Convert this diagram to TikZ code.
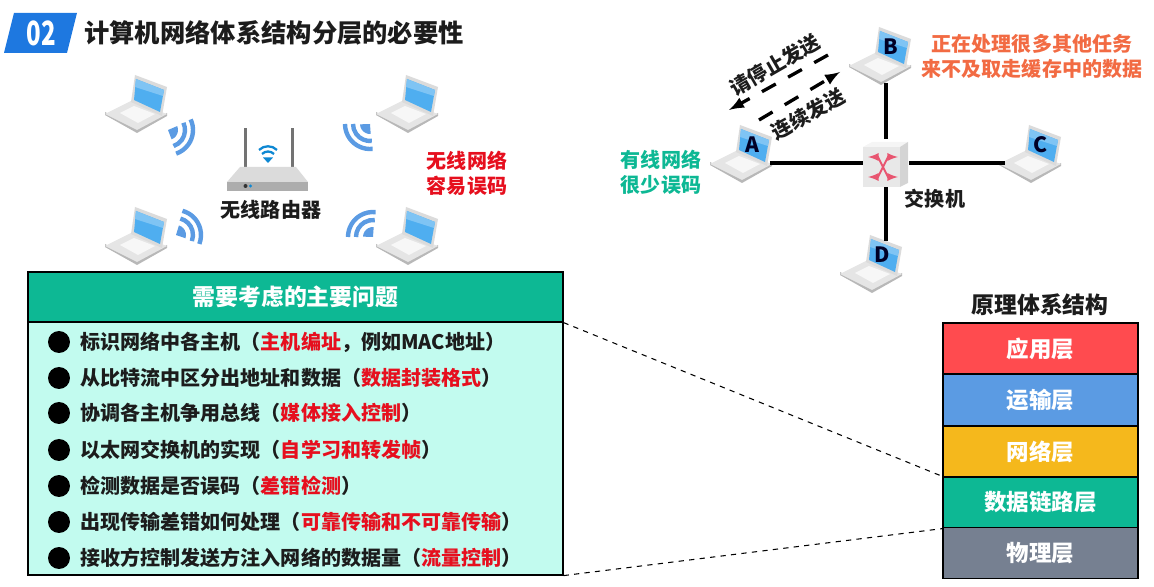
\documentclass[tikz,border=0pt]{standalone}
\usepackage{fontspec}
\setmainfont{Noto Sans CJK SC}
\usetikzlibrary{positioning}

\definecolor{tealbar}{HTML}{0DB894}
\definecolor{mintbg}{HTML}{C2FBEF}
\definecolor{hotred}{HTML}{E60F1E}
\definecolor{wifiblue}{HTML}{5B9BE3}
\definecolor{badgeblue}{HTML}{1E78E0}
\definecolor{screenblue}{HTML}{4FAEF0}
\definecolor{screenglow}{HTML}{7FC4F4}
\definecolor{inkblack}{HTML}{1C1C1C}
\definecolor{busyorange}{HTML}{F26B43}
\definecolor{appred}{HTML}{FF4B4F}
\definecolor{netyellow}{HTML}{F5B81C}
\definecolor{phygray}{HTML}{768091}
\definecolor{arrowpink}{HTML}{E85570}

\newcommand{\hot}[1]{\textcolor{hotred}{#1}}

\tikzset{
    label text/.style={font=\bfseries\fontsize{11.4pt}{14.2pt}\selectfont, align=center, inner sep=0pt, text=inkblack},
    item/.style={label text, anchor=west},
    dot/.style={circle, fill=black, inner sep=0pt, minimum size=0.44cm},
    layer/.style={rectangle, draw=black, line width=0.7pt, minimum width=3.9cm, minimum height=1.02cm, inner sep=0pt, text=white, font=\bfseries\fontsize{12.8pt}{15pt}\selectfont},
    link/.style={line width=2.2pt, black},
    send/.style={line width=1.9pt, dash pattern=on 9pt off 8pt, -latex},
    zoomline/.style={dashed, line width=0.6pt},
    laptop/.pic={
        \fill[black!28] (0,40) -- (32,58) -- (62,41) -- (62,38) -- (32,54) -- (0,37) -- cycle;
        \fill[black!10] (0,39) -- (26,26) -- (62,39) -- (32,55) -- cycle;
        \fill[black!3] (15,38) -- (29,31) -- (50,39) -- (33,48) -- cycle;
        \fill[black!14] (30,0) -- (62,12) -- (57,41) -- (26,27) -- cycle;
        \fill[screenblue] (31,4) -- (59,15) -- (55,37) -- (29,25) -- cycle;
        \fill[screenglow] (31,4) -- (59,15) -- (58,21) -- (30,12) -- cycle;
        \node[font=\bfseries\fontsize{12pt}{14pt}\selectfont, text=black!85!blue, inner sep=0pt] (-name) at (42,20) {#1};
        \coordinate (-e) at (60,38);
        \coordinate (-w) at (6,38);
        \coordinate (-s) at (37,56);
        \coordinate (-n) at (46,6);
    },
    wifi/.pic={
        \fill[wifiblue] (0,0) -- (-46:10) arc[start angle=-46, end angle=46, radius=10] -- cycle;
        \draw[wifiblue, line width=2.5pt] (-48:17) arc[start angle=-48, end angle=48, radius=17];
        \draw[wifiblue, line width=2.5pt] (-48:25) arc[start angle=-48, end angle=48, radius=25];
    }
}

\begin{document}
\begin{tikzpicture}[x=0.02cm, y=-0.02cm]
    \useasboundingbox (0,0) rectangle (1154,587);

    % title
    \fill[badgeblue] (14,13) -- (77,13) -- (67,53) -- (4,53) -- cycle;
    \node[text=white, font=\bfseries\fontsize{19pt}{20pt}\selectfont, inner sep=0pt] (badge) at (41,33) {\scalebox{0.72}[1]{02}};
    \node[label text, anchor=west, font=\bfseries\fontsize{14.4pt}{17pt}\selectfont] (title) at (84,33) {计算机网络体系结构分层的必要性};

    % wireless side
    \pic (pcTL) at (105,75) {laptop={}};
    \pic (pcTR) at (376,75) {laptop={}};
    \pic (pcBL) at (105,207) {laptop={}};
    \pic (pcBR) at (376,207) {laptop={}};
    \pic[rotate=-23] at (168,130) {wifi};
    \pic[rotate=-132] at (370,124) {wifi};
    \pic[rotate=27] at (176,235) {wifi};
    \pic[rotate=132] at (373,237) {wifi};

    \fill[black!55] (243.5,128) rectangle (246.5,167);
    \fill[black!55] (290.5,128) rectangle (293.5,167);
    \fill[black!14] (240,167) -- (296,167) -- (308,182) -- (227,182) -- cycle;
    \fill[black!32] (227,182) rectangle (308,191);
    \fill[black!80] (245.5,186) circle (2);
    \fill[cyan!70!blue] (250.5,186) circle (1.6);
    \fill[cyan!70!blue] (268,163) -- (263,157.5) -- (273,157.5) -- cycle;
    \draw[cyan!70!blue, line width=1.3pt] (262,154) arc[start angle=225, end angle=315, radius=8.5];
    \draw[cyan!70!blue, line width=1.3pt] (259,150) arc[start angle=225, end angle=315, radius=12.7];
    \node[label text] (router) at (271,210) {无线路由器};
    \node[label text, text=hotred] (wlnote) at (467,173) {无线网络\\容易误码};

    % wired side
    \pic (hostA) at (710,125) {laptop=A};
    \pic (hostB) at (849,27) {laptop=B};
    \pic (hostC) at (999,125) {laptop=C};
    \pic (hostD) at (840,235) {laptop=D};

    \node[rectangle, inner sep=0pt, minimum width=0.9cm, minimum height=0.96cm] (swt) at (886,163) {};
    \draw[link] (hostA-e) -- (swt.west);
    \draw[link] (swt.east) -- (hostC-w);
    \draw[link] (hostB-s) -- (swt.north);
    \draw[link] (swt.south) -- (hostD-n);

    \fill[black!9] (863,147) rectangle (900,187);
    \fill[black!4] (863,147) -- (872,142) -- (908,142) -- (900,147) -- cycle;
    \fill[black!17] (900,147) -- (908,142) -- (908,183) -- (900,187) -- cycle;
    \draw[latex-latex, arrowpink, line width=1.1pt] (868,157) -- (878,157) -- (888,177) -- (898,177);
    \draw[latex-latex, arrowpink, line width=1.1pt] (868,177) -- (878,177) -- (888,157) -- (898,157);

    \coordinate (stopA) at (729,110);
    \coordinate (stopB) at (828,55);
    \coordinate (sendA) at (759,120);
    \coordinate (sendB) at (840,72);
    \draw[send] (stopB) -- (stopA);
    \draw[send] (sendA) -- (sendB);
    \node[label text, rotate=30] (stoptxt) at (775,65) {请停止发送};
    \node[label text, rotate=29] (sendtxt) at (808,114) {连续发送};

    \node[label text] (swtname) at (935,199) {交换机};
    \node[label text, text=tealbar] (wirednote) at (661,172) {有线网络\\很少误码};
    \node[label text, text=busyorange] (busynote) at (1032,56) {正在处理很多其他任务\\来不及取走缓存中的数据};

    % problem table
    \node[rectangle, draw=black, line width=0.7pt, fill=mintbg, minimum width=10.7cm, minimum height=5.06cm, inner sep=0pt] (panel) at (295.5,448.5) {};
    \node[rectangle, draw=black, line width=0.7pt, fill=tealbar, minimum width=10.7cm, minimum height=1cm, inner sep=0pt, text=white, font=\bfseries\fontsize{13pt}{15pt}\selectfont] (panelhead) at (295.5,297) {需要考虑的主要问题};

    \foreach \y [count=\i] in {342,378,413,450,486,522,558}
        \node[dot] (dot\i) at (59,\y) {};
    \node[item, right=0.2cm of dot1] (item1) {标识网络中各主机（\hot{主机编址}，例如MAC地址）};
    \node[item, right=0.2cm of dot2] (item2) {从比特流中区分出地址和数据（\hot{数据封装格式}）};
    \node[item, right=0.2cm of dot3] (item3) {协调各主机争用总线（\hot{媒体接入控制}）};
    \node[item, right=0.2cm of dot4] (item4) {以太网交换机的实现（\hot{自学习和转发帧}）};
    \node[item, right=0.2cm of dot5] (item5) {检测数据是否误码（\hot{差错检测}）};
    \node[item, right=0.2cm of dot6] (item6) {出现传输差错如何处理（\hot{可靠传输和不可靠传输}）};
    \node[item, right=0.2cm of dot7] (item7) {接收方控制发送方注入网络的数据量（\hot{流量控制}）};

    % layer stack
    \node[label text, font=\bfseries\fontsize{13pt}{15pt}\selectfont] (stacktitle) at (1040,305) {原理体系结构};
    \node[layer, fill=appred] (app) at (1040.5,348.5) {应用层};
    \node[layer, fill=wifiblue] (trans) at (1040.5,400) {运输层};
    \node[layer, fill=netyellow] (net) at (1040.5,451.5) {网络层};
    \node[layer, fill=tealbar] (datalink) at (1040.5,502.5) {数据链路层};
    \node[layer, fill=phygray] (phy) at (1040.5,553) {物理层};

    \draw[zoomline] (panelhead.south east) -- (datalink.north west);
    \draw[zoomline] (panel.south east) -- (datalink.south west);
\end{tikzpicture}
\end{document}
